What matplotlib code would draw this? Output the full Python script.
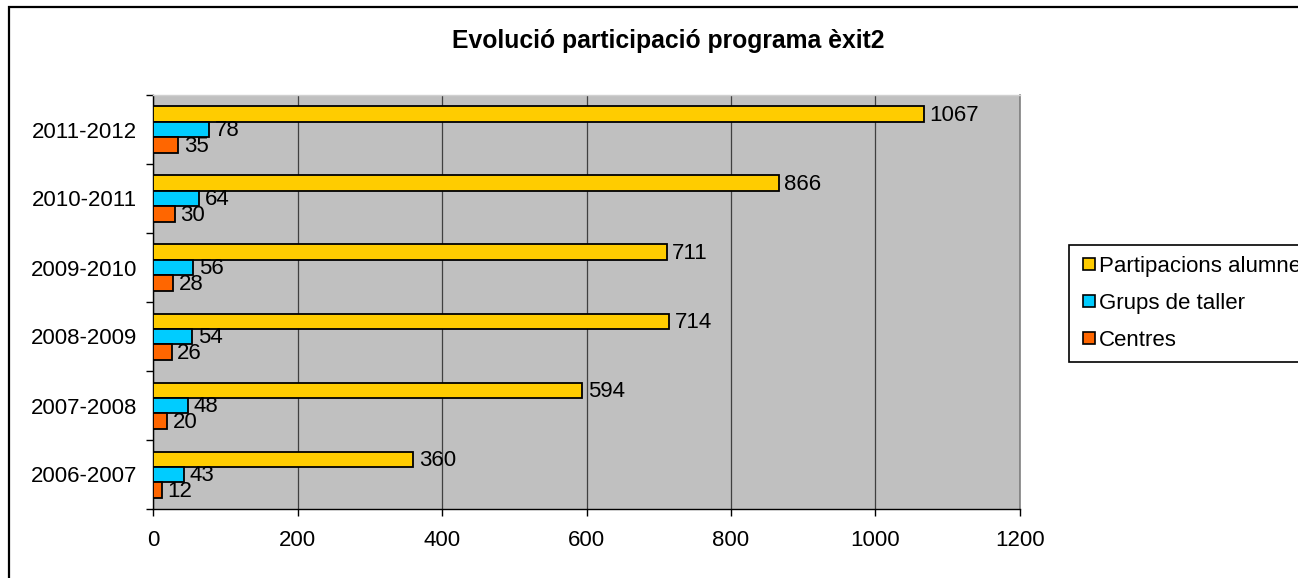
import numpy as np
import matplotlib
matplotlib.use("Agg")
import matplotlib.pyplot as plt
from matplotlib.patches import Rectangle
from matplotlib.lines import Line2D

plt.rcParams['font.family'] = ['Liberation Sans', 'DejaVu Sans']

categories = ["2006-2007", "2007-2008", "2008-2009", "2009-2010", "2010-2011", "2011-2012"]
alumnes = [360, 594, 714, 711, 866, 1067]
grups = [43, 48, 54, 56, 64, 78]
centres = [12, 20, 26, 28, 30, 35]
series_names = ["Partipacions alumnes", "Grups de taller", "Centres"]
colors = ["#FFCC00", "#00CCFF", "#FF6600"]
title = "Evolució participació programa èxit2"
xticks = [0, 200, 400, 600, 800, 1000, 1200]

W, H = 1298, 578
fig = plt.figure(figsize=(W / 100, H / 100), dpi=100)
ax = fig.add_axes([153 / W, 1 - 509 / H, (1020 - 153) / W, (509 - 95) / H])
ax.set_facecolor("#C0C0C0")

fs = 16
h = 1 / 4.5
y = np.arange(len(categories))
offsets = [h, 0, -h]
for vals, off, col in zip([alumnes, grups, centres], offsets, colors):
    bars = ax.barh(y + off, vals, height=h, color=col, edgecolor="black", linewidth=1.3, zorder=3)
    for b, v in zip(bars, vals):
        ax.annotate(str(v), (v, b.get_y() + b.get_height() / 2), xytext=(4, -1),
                    textcoords="offset points", va="center", ha="left", fontsize=fs, zorder=4)

ax.set_xlim(0, 1200)
ax.set_ylim(-0.5, len(categories) - 0.5)
ax.set_xticks(xticks)
ax.set_xticklabels([str(t) for t in xticks], fontsize=fs)
ax.grid(axis="x", color="#404040", linewidth=0.9, zorder=1)
ax.set_yticks(np.arange(-0.5, len(categories), 1))
ax.set_yticklabels([""] * (len(categories) + 1))
ax.set_yticks(y, minor=True)
ax.set_yticklabels(categories, minor=True, fontsize=fs)
ax.tick_params(axis="y", which="major", length=5, width=1, direction="out")
ax.tick_params(axis="y", which="minor", length=0, pad=11.5)
ax.tick_params(axis="x", which="major", length=5, width=1, direction="out", pad=10)
for s in ["left", "bottom"]:
    ax.spines[s].set_color("black")
    ax.spines[s].set_linewidth(1)
ax.spines["right"].set_color("#808080")
ax.spines["right"].set_linewidth(1.2)
ax.spines["top"].set_color("#D0D0D0")
ax.spines["top"].set_linewidth(1)

fig.text(668 / W, 1 - 41 / H, title, ha="center", va="center", fontsize=17.8, fontweight="bold")

handles = [Line2D([0], [0], marker="s", linestyle="none", markersize=8.5, markerfacecolor=c,
                  markeredgecolor="black", markeredgewidth=1.2) for c in colors]
leg = fig.legend(handles, series_names, loc="upper left", bbox_to_anchor=(1069 / W, 1 - 245 / H),
                 fontsize=fs, frameon=True, fancybox=False, edgecolor="black", framealpha=1,
                 handletextpad=0.05, handlelength=0.8, labelspacing=0.72, borderpad=0.5,
                 borderaxespad=0)
leg.get_frame().set_linewidth(1.2)

fig.patches.append(Rectangle((9 / W, -0.1), 1.2, 1 - 7 / H + 0.1, transform=fig.transFigure,
                             fill=False, edgecolor="black", linewidth=1.6, zorder=0))

fig.savefig("out.png", dpi=100)
